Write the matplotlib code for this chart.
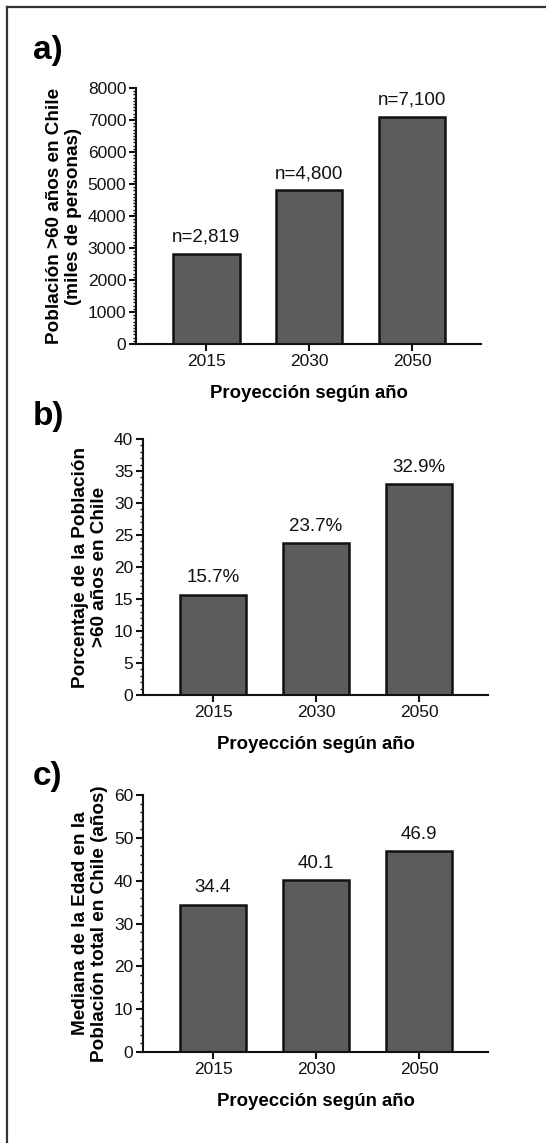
import matplotlib
matplotlib.use("Agg")
import matplotlib.pyplot as plt
from matplotlib.lines import Line2D
from matplotlib.ticker import MultipleLocator

plt.rcParams['font.family'] = ['Liberation Sans', 'DejaVu Sans']

# datos
years = ['2015', '2030', '2050']
pop_60 = [2819, 4800, 7100]               # miles de personas
pop_60_labels = ['n=2,819', 'n=4,800', 'n=7,100']
pct_60 = [15.7, 23.7, 32.9]
pct_60_labels = ['15.7%', '23.7%', '32.9%']
median_age = [34.4, 40.1, 46.9]
median_age_labels = ['34.4', '40.1', '46.9']

W, H = 546, 1143
fig = plt.figure(figsize=(W / 100, H / 100), dpi=100)


def px_axes(left, right, top, bottom):
    return fig.add_axes([left / W, 1 - bottom / H, (right - left) / W, (bottom - top) / H])


panels = [
    dict(box=(136, 481, 88, 344), vals=pop_60, labels=pop_60_labels, ylim=8000,
         major=1000, minor=100, letter='a)', letter_y=50,
         ylabel='Población >60 años en Chile\n(miles de personas)', ylab_x=64),
    dict(box=(143, 488, 439, 695), vals=pct_60, labels=pct_60_labels, ylim=40,
         major=5, minor=1, letter='b)', letter_y=416,
         ylabel='Porcentaje de la Población\n>60 años en Chile', ylab_x=90),
    dict(box=(143, 488, 795, 1052), vals=median_age, labels=median_age_labels, ylim=60,
         major=10, minor=2, letter='c)', letter_y=776,
         ylabel='Mediana de la Edad en la\nPoblación total en Chile (años)', ylab_x=90),
]

for p in panels:
    l, r, t, b = p['box']
    ax = px_axes(l, r, t, b)
    x = range(len(years))
    ax.bar(x, p['vals'], width=0.65, color='#5c5c5c', edgecolor='#111111', linewidth=1.8)
    for xi, v, lab in zip(x, p['vals'], p['labels']):
        ax.annotate(lab, (xi, v), xytext=(0, 6), textcoords='offset points',
                    ha='center', va='bottom', fontsize=13.5, color='#111111')
    ax.set_xlim(-0.68, 2.67)
    ax.set_ylim(0, p['ylim'])
    ax.set_xticks(list(x))
    ax.set_xticklabels(years)
    ax.yaxis.set_major_locator(MultipleLocator(p['major']))
    ax.yaxis.set_minor_locator(MultipleLocator(p['minor']))
    for side in ['top', 'right']:
        ax.spines[side].set_visible(False)
    for side in ['left', 'bottom']:
        ax.spines[side].set_linewidth(1.5)
        ax.spines[side].set_color('#111111')
    ax.tick_params(axis='both', which='major', length=5, width=1.5, labelsize=12.5,
                   colors='#111111', pad=2)
    ax.tick_params(axis='y', which='minor', length=2.5, width=1.0, colors='#111111')
    ax.set_xlabel('Proyección según año', fontsize=13.4, fontweight='bold', labelpad=12)
    fig.text(p['ylab_x'] / W, 1 - ((t + b) / 2) / H, p['ylabel'], rotation=90,
             ha='center', va='center', multialignment='center',
             fontsize=13.6, fontweight='bold', linespacing=1.2)
    fig.text(33 / W, 1 - p['letter_y'] / H, p['letter'], ha='left', va='center',
             fontsize=24, fontweight='bold')

# marco exterior (solo arriba e izquierda visibles)
fig.add_artist(Line2D([7 / W, 1], [1 - 7 / H, 1 - 7 / H], color='#333333', linewidth=1.6))
fig.add_artist(Line2D([7 / W, 7 / W], [0, 1 - 7 / H], color='#333333', linewidth=1.6))

fig.savefig('out.png', dpi=100)
